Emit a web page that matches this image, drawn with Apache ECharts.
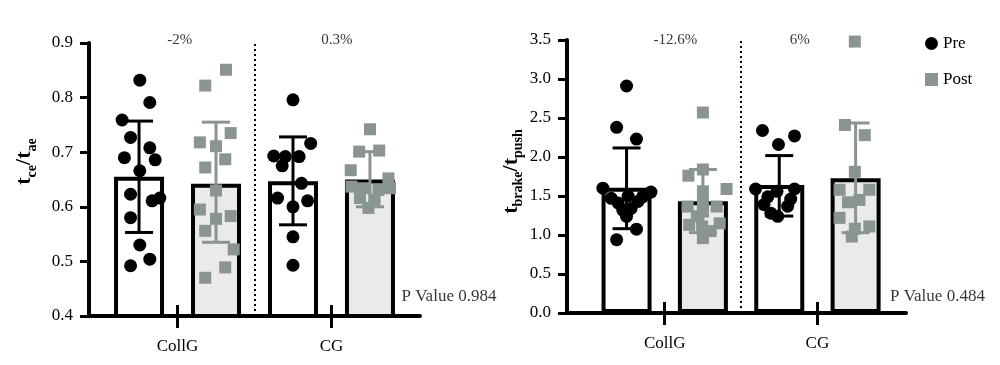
<!DOCTYPE html>
<html><head><meta charset="utf-8">
<script src="https://cdn.jsdelivr.net/npm/echarts@6/dist/echarts.min.js"></script>
<style>html,body{margin:0;padding:0;background:#fff}#c{width:1000px;height:365px}</style>
</head><body><div id="c"></div>
<script>
// ---------- DATA ----------
const groups = ['CollG', 'CG'];
const groupTicks = [1.5, 3.5];
const barPositions = [1, 2, 3, 4]; // CollG Pre, CollG Post, CG Pre, CG Post

const leftTicks = [0.4, 0.5, 0.6, 0.7, 0.8, 0.9];
const rightTicks = [0.0, 0.5, 1.0, 1.5, 2.0, 2.5, 3.0, 3.5];

const leftMeans = [0.655, 0.642, 0.647, 0.650];
const leftLow   = [0.553, 0.535, 0.567, 0.600];
const leftHigh  = [0.757, 0.755, 0.728, 0.701];

const rightMeans = [1.605, 1.434, 1.640, 1.728];
const rightLow   = [1.081, 1.030, 1.243, 1.030];
const rightHigh  = [2.116, 1.840, 2.018, 2.436];

// individual subjects (value) and horizontal jitter (category units)
const leftCollGPre  = [0.832, 0.791, 0.759, 0.727, 0.708, 0.690, 0.686, 0.666, 0.623, 0.611, 0.616, 0.580, 0.530, 0.492, 0.504];
const leftCollGPreJ = [0.01, 0.14, -0.22, -0.11, 0.14, -0.19, 0.21, 0.01, -0.11, 0.17, 0.27, -0.11, 0.01, -0.11, 0.14];
const leftCollGPost  = [0.851, 0.822, 0.735, 0.718, 0.711, 0.687, 0.672, 0.630, 0.595, 0.578, 0.583, 0.556, 0.522, 0.489, 0.470];
const leftCollGPostJ = [0.13, -0.14, 0.19, -0.21, 0, 0.12, -0.14, 0, -0.21, 0, 0.19, -0.14, 0.23, 0.12, -0.14];
const leftCGPre  = [0.796, 0.716, 0.693, 0.692, 0.692, 0.675, 0.643, 0.616, 0.611, 0.600, 0.545, 0.493];
const leftCGPreJ = [0, 0.23, -0.25, -0.10, 0.08, -0.14, 0.11, -0.20, 0.19, 0, 0, 0];
const leftCGPost  = [0.742, 0.701, 0.703, 0.667, 0.652, 0.637, 0.634, 0.631, 0.634, 0.616, 0.613, 0.598];
const leftCGPostJ = [0, -0.14, 0.12, -0.25, 0.24, -0.24, -0.09, 0.11, 0.26, -0.13, 0.06, -0.02];

const rightCollGPre  = [2.91, 2.38, 2.23, 1.60, 1.55, 1.47, 1.41, 1.32, 1.24, 1.34, 1.43, 1.49, 1.50, 1.075, 0.94];
const rightCollGPreJ = [0, -0.13, 0.13, -0.31, 0.32, -0.20, -0.11, -0.05, 0, 0.06, 0.15, 0.21, 0.02, 0.13, -0.13];
const rightCollGPost  = [2.57, 1.84, 1.76, 1.59, 1.56, 1.41, 1.365, 1.365, 1.30, 1.24, 1.15, 1.13, 1.11, 1.05, 0.96];
const rightCollGPostJ = [0, 0, -0.19, 0.31, 0, 0, -0.20, 0.18, 0, -0.08, 0.22, -0.18, -0.01, 0.10, 0];
const rightCGPre  = [2.34, 2.27, 2.16, 1.59, 1.59, 1.56, 1.49, 1.46, 1.39, 1.37, 1.28, 1.24];
const rightCGPreJ = [-0.22, 0.20, -0.01, -0.31, 0.20, -0.03, -0.15, 0.15, -0.20, 0.11, -0.11, -0.02];
const rightCGPost  = [3.48, 2.41, 2.28, 1.81, 1.58, 1.58, 1.45, 1.42, 1.22, 1.11, 1.08, 0.98];
const rightCGPostJ = [-0.01, -0.14, 0.12, -0.01, -0.21, 0.18, 0.05, -0.10, -0.21, 0.18, -0.01, -0.05];

const leftPct = ['-2%', '0.3%'];
const rightPct = ['-12.6%', '6%'];
const leftP = 'P Value 0.984';
const rightP = 'P Value 0.484';

// ---------- STYLE ----------
const FONT = "'Liberation Serif', 'DejaVu Serif', serif";
const GRAY = '#8a9590';
const POSTFILL = '#e9eae9';
const TXT = '#000';

const chart = echarts.init(document.getElementById('c'), null, {renderer: 'canvas'});

function pts(vals, jit, center) { return vals.map((v, i) => [center + jit[i], v]); }

function xAxes(gridIndex, min, max) {
  return [
    {type: 'value', gridIndex, min, max, position: 'bottom',
     splitLine: {show: false},
     axisLine: {show: true, onZero: false, lineStyle: {color: '#000', width: 4}},
     axisTick: {show: true, customValues: groupTicks, length: 12, lineStyle: {color: '#000', width: 3}},
     axisLabel: {show: true, customValues: groupTicks, margin: 22,
       formatter: v => { let k = 0; groupTicks.forEach((t, i) => { if (Math.abs(t - v) < 1e-6) k = i; }); return groups[k]; },
       fontFamily: FONT, fontSize: 17, color: TXT}},
    {type: 'value', gridIndex, min, max, position: 'bottom',
     splitLine: {show: false}, axisLine: {show: false},
     axisTick: {show: true, inside: true, customValues: groupTicks, length: 11, lineStyle: {color: '#000', width: 3}},
     axisLabel: {show: false}}
  ];
}

function yAxis(gridIndex, ticks, name, gap, shift) {
  return {type: 'value', gridIndex, min: ticks[0], max: ticks[ticks.length - 1], interval: ticks[1] - ticks[0],
    splitLine: {show: false},
    axisLine: {show: true, onZero: false, lineStyle: {color: '#000', width: 4}},
    axisTick: {show: true, length: 9, lineStyle: {color: '#000', width: 3}},
    axisLabel: {margin: 16, formatter: v => v.toFixed(1), fontFamily: FONT, fontSize: 17, color: TXT},
    name, nameLocation: 'middle', nameRotate: 90, nameGap: gap,
    nameTextStyle: {padding: [0, 0, 0, shift],
      rich: {
        m: {fontFamily: FONT, fontWeight: 'bold', fontSize: 22, lineHeight: 26, verticalAlign: 'top', color: '#000'},
        s: {fontFamily: FONT, fontWeight: 'bold', fontSize: 14, lineHeight: 12, verticalAlign: 'bottom', color: '#000'}
      }}
  };
}

function errSeries(xi, yi, low, high) {
  return {type: 'custom', xAxisIndex: xi, yAxisIndex: yi, z: 3, silent: true,
    data: barPositions.map((x, i) => [x, low[i], high[i], i % 2]),
    renderItem: (params, api) => {
      const x = api.value(0), lo = api.value(1), hi = api.value(2), kind = api.value(3);
      const a = api.coord([x, lo]), b = api.coord([x, hi]);
      const style = {stroke: kind ? GRAY : '#000', lineWidth: 3};
      const h = 14;
      return {type: 'group', children: [
        {type: 'line', shape: {x1: a[0], y1: a[1], x2: b[0], y2: b[1]}, style},
        {type: 'line', shape: {x1: a[0] - h, y1: a[1], x2: a[0] + h, y2: a[1]}, style},
        {type: 'line', shape: {x1: b[0] - h, y1: b[1], x2: b[0] + h, y2: b[1]}, style}
      ]};
    }};
}

function barSeries(xi, yi, means) {
  return {type: 'bar', xAxisIndex: xi, yAxisIndex: yi, barWidth: 50, z: 2, silent: true, clip: true,
    data: barPositions.map((x, i) => ({value: [x, means[i]],
      itemStyle: {color: i % 2 ? POSTFILL : '#fff', borderColor: '#000', borderWidth: 4}})),
    markLine: {symbol: 'none', silent: true, label: {show: false},
      lineStyle: {type: [2, 3], color: '#000', width: 2}, data: [{xAxis: 2.5}]}};
}

function scat(name, xi, yi, data, sym) {
  return {type: 'scatter', name, xAxisIndex: xi, yAxisIndex: yi, z: 4, silent: true,
    symbol: sym, symbolSize: sym === 'circle' ? 13 : 12,
    itemStyle: {color: sym === 'circle' ? '#000' : GRAY, opacity: 1}, data};
}

function textSeries(xi, yi, items, align, size) {
  return {type: 'scatter', xAxisIndex: xi, yAxisIndex: yi, z: 5, silent: true, clip: false,
    symbolSize: 0,
    label: {show: true, position: 'inside', align, verticalAlign: 'middle',
      formatter: p => p.name, fontFamily: FONT, fontSize: size, color: TXT},
    data: items};
}

const option = {
  animation: false,
  backgroundColor: '#fff',
  grid: [
    {left: 89, top: 43, width: 331, height: 273},
    {left: 567, top: 40, width: 339, height: 273}
  ],
  xAxis: [...xAxes(0, 0.35, 4.65), ...xAxes(1, 0.22, 4.66)],
  yAxis: [
    yAxis(0, leftTicks, '{m|t}{s|ce}{m|/t}{s|ae}', 50, 36),
    yAxis(1, rightTicks, '{m|t}{s|brake}{m|/t}{s|push}', 36, 10)
  ],
  legend: {orient: 'vertical', left: 920, top: 30, itemWidth: 13, itemHeight: 13, itemGap: 19,
    textStyle: {fontFamily: FONT, fontSize: 17, color: TXT},
    data: [{name: 'Pre', icon: 'circle'}, {name: 'Post', icon: 'rect'}]},
  series: [
    barSeries(0, 0, leftMeans),
    errSeries(0, 0, leftLow, leftHigh),
    scat('Pre', 0, 0, pts(leftCollGPre, leftCollGPreJ, 1).concat(pts(leftCGPre, leftCGPreJ, 3)), 'circle'),
    scat('Post', 0, 0, pts(leftCollGPost, leftCollGPostJ, 2).concat(pts(leftCGPost, leftCGPostJ, 4)), 'rect'),
    textSeries(0, 0, [{name: leftPct[0], value: [1.53, 0.9055]}, {name: leftPct[1], value: [3.57, 0.9055]}], 'center', 15),
    textSeries(0, 0, [{name: leftP, value: [4.41, 0.435]}], 'left', 17),

    barSeries(2, 1, rightMeans),
    errSeries(2, 1, rightLow, rightHigh),
    scat('Pre', 2, 1, pts(rightCollGPre, rightCollGPreJ, 1).concat(pts(rightCGPre, rightCGPreJ, 3)), 'circle'),
    scat('Post', 2, 1, pts(rightCollGPost, rightCollGPostJ, 2).concat(pts(rightCGPost, rightCGPostJ, 4)), 'rect'),
    textSeries(2, 1, [{name: rightPct[0], value: [1.64, 3.5]}, {name: rightPct[1], value: [3.27, 3.5]}], 'center', 15),
    textSeries(2, 1, [{name: rightP, value: [4.45, 0.205]}], 'left', 17)
  ]
};
chart.setOption(option);
</script>
</body></html>
